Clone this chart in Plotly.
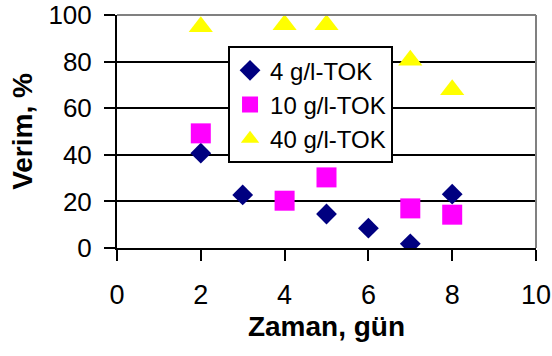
import plotly.graph_objects as go

# Sampling days and yield (%) for each TOC concentration
days_4 = [2, 3, 5, 6, 7, 8]
yield_4 = [40.7, 22.8, 14.6, 8.5, 1.8, 23.1]

days_10 = [2, 4, 5, 7, 8]
yield_10 = [49.2, 20.3, 30.3, 17.0, 14.3]

days_40 = [2, 4, 5, 7, 8]
yield_40 = [95.0, 95.8, 95.8, 80.6, 67.9]

series_names = ["4 g/l-TOK", "10 g/l-TOK", "40 g/l-TOK"]
x_ticks = [0, 2, 4, 6, 8, 10]
y_ticks = [0, 20, 40, 60, 80, 100]

FONT = "Liberation Sans, Arial, sans-serif"

fig = go.Figure()
fig.add_trace(go.Scatter(
    x=days_4, y=yield_4, mode="markers", name=series_names[0],
    marker=dict(symbol="diamond", size=16, color="#000080", line=dict(width=0)),
))
fig.add_trace(go.Scatter(
    x=days_10, y=yield_10, mode="markers", name=series_names[1],
    marker=dict(symbol="square", size=20, color="#FF00FF", line=dict(width=0)),
))
fig.add_trace(go.Scatter(
    x=days_40, y=yield_40, mode="markers", name=series_names[2],
    marker=dict(symbol="triangle-up", size=21, color="#FFFF00", line=dict(width=0)),
))

# grey frame along the top and right edges of the plot area
fig.add_shape(type="line", xref="paper", yref="paper", x0=0, x1=1, y0=1, y1=1,
              line=dict(color="#808080", width=2), layer="above")
fig.add_shape(type="line", xref="paper", yref="paper", x0=1, x1=1, y0=0, y1=1,
              line=dict(color="#808080", width=2), layer="above")

fig.update_layout(
    width=552, height=356,
    margin=dict(l=117, r=16, t=15, b=108, autoexpand=False),
    paper_bgcolor="white", plot_bgcolor="white",
    font=dict(family=FONT, color="black", size=27),
    showlegend=True,
    legend=dict(
        x=0.265, y=0.866, xanchor="left", yanchor="top",
        bgcolor="white", bordercolor="black", borderwidth=2,
        font=dict(family=FONT, size=24, color="black"),
        itemwidth=30,
    ),
    xaxis=dict(
        range=[0, 10], tickvals=x_ticks, ticktext=[str(v) for v in x_ticks],
        showgrid=False, zeroline=False, automargin=False,
        showline=True, linecolor="black", linewidth=2,
        ticks="outside", ticklen=11, tickwidth=2, tickcolor="black",
        ticklabelstandoff=11, ticklabeloverflow="allow",
        tickfont=dict(family=FONT, size=27, color="black"),
        title=dict(text="<b>Zaman, gün</b>", font=dict(family=FONT, size=28, color="black"),
                   standoff=7),
    ),
    yaxis=dict(
        range=[0, 100], tickvals=y_ticks, ticktext=[str(v) for v in y_ticks],
        showgrid=True, gridcolor="black", gridwidth=2,
        zeroline=False, automargin=False,
        showline=True, linecolor="black", linewidth=2,
        ticks="outside", ticklen=11, tickwidth=2, tickcolor="black",
        ticklabelstandoff=7, ticklabeloverflow="allow",
        tickfont=dict(family=FONT, size=26, color="black"),
        title=dict(text="<b>Verim, %</b>", font=dict(family=FONT, size=28, color="black"),
                   standoff=8),
    ),
)

fig.write_html("out.html")
